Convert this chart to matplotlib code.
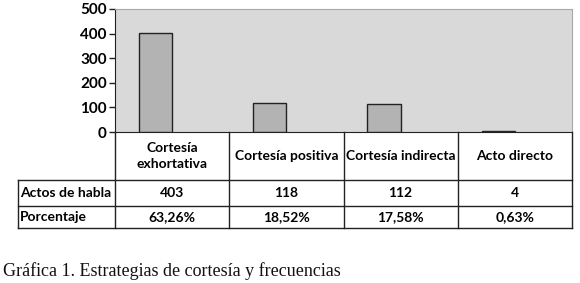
import matplotlib.pyplot as plt
from matplotlib.lines import Line2D

categories = ["Cortesía\nexhortativa", "Cortesía positiva", "Cortesía indirecta", "Acto directo"]
actos = [403, 118, 112, 4]
porcentaje = ["63,26%", "18,52%", "17,58%", "0,63%"]
row_labels = ["Actos de habla", "Porcentaje"]
yticks = [0, 100, 200, 300, 400, 500]
caption = "Gráfica 1. Estrategias de cortesía y frecuencias"

W, H = 580, 283
fig = plt.figure(figsize=(W / 100, H / 100), dpi=100)
fig.patch.set_facecolor("white")

def frac(x0, y0, x1, y1):
    return [x0 / W, 1 - y1 / H, (x1 - x0) / W, (y1 - y0) / H]

tick_font = dict(family="Lato", weight="bold", size=11)

# bar chart
ax = fig.add_axes(frac(115, 9, 572, 132))
ax.set_facecolor("#d9d9d9")
bar_w = 0.29
ax.bar([i - bar_w for i in range(len(actos))], actos, width=bar_w, align="edge",
       color="#b3b3b3", edgecolor="#222222", linewidth=1.0, zorder=3)
ax.set_xlim(-0.5, len(actos) - 0.5)
ax.set_ylim(0, 500)
ax.set_yticks(yticks)
ax.set_yticklabels([str(t) for t in yticks], fontdict=tick_font)
ax.set_xticks([])
ax.tick_params(axis="y", length=4, width=1, color="#222222", pad=2)
ax.spines["left"].set_color("#222222")
ax.spines["bottom"].set_color("#222222")
ax.spines["top"].set_color("#a8a8a8")
ax.spines["right"].set_color("#a8a8a8")

# data table below the chart
px = 114.25
left = -0.5 - (115 - 18) / px
tab = fig.add_axes(frac(18, 132, 572, 228))
tab.set_xlim(left, len(actos) - 0.5)
tab.set_ylim(0, 96)
tab.axis("off")
lc = "#222222"
y_head, y_r1, y_r2 = 96, 48, 22

def line(xs, ys):
    tab.add_line(Line2D(xs, ys, color=lc, linewidth=1.0, clip_on=False))

for i in range(len(actos) + 1):
    x = i - 0.5
    line([x, x], [0, y_head])
line([left, left], [0, y_r1])
line([left, len(actos) - 0.5], [y_r1, y_r1])
line([left, len(actos) - 0.5], [y_r2, y_r2])
line([left, len(actos) - 0.5], [0, 0])

cell_font = dict(family="Lato", weight="bold", size=10)
for i, cat in enumerate(categories):
    tab.text(i, (y_head + y_r1) / 2, cat, ha="center", va="center",
             linespacing=1.5, **cell_font)
    tab.text(i, (y_r1 + y_r2) / 2, str(actos[i]), ha="center", va="center", **cell_font)
    tab.text(i, y_r2 / 2, porcentaje[i], ha="center", va="center", **cell_font)
for lab, yc in zip(row_labels, [(y_r1 + y_r2) / 2, y_r2 / 2]):
    tab.text(left + 0.02, yc, lab, ha="left", va="center", **cell_font)

fig.text(3 / W, 1 - 276 / H, caption, family="Liberation Serif", size=13,
         ha="left", va="baseline", color="#111111")

fig.savefig("out.png", dpi=100)
